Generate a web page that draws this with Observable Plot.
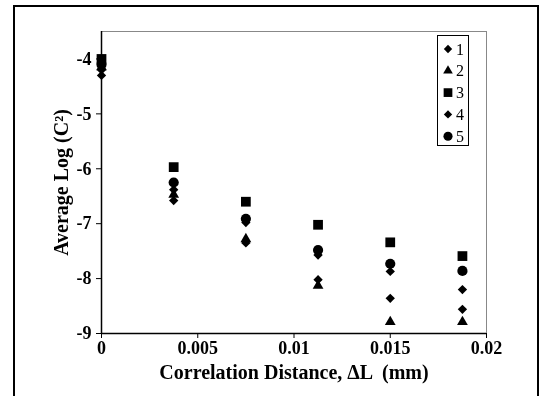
<!DOCTYPE html>
<html><head><meta charset="utf-8">
<script src="https://cdn.jsdelivr.net/npm/d3@7"></script>
<script src="https://cdn.jsdelivr.net/npm/@observablehq/plot@0.6"></script>
<style>
body{margin:0;background:#fff;}
#wrap{position:relative;width:543px;height:396px;overflow:hidden;background:#fff;}
#border{position:absolute;left:13px;top:5px;width:526px;height:420px;border:2px solid #000;border-bottom:none;box-sizing:border-box;}
#chart{position:absolute;left:0;top:0;will-change:transform;}
#chart svg text{font-weight:bold;}
#legend{position:absolute;left:437px;top:35px;width:32px;height:111px;border:1px solid #000;background:#fff;box-sizing:border-box;will-change:transform;}
#legend svg{display:block;}
</style></head>
<body>
<div id="wrap"><div id="border"></div><div id="chart"></div><div id="legend"></div></div>
<script>
const distances = [0, 0.00375, 0.0075, 0.01125, 0.015, 0.01875];
const series1 = [-4.30, -6.58, -7.35, -8.02, -8.36, -8.56];
const series2 = [-4.15, -6.47, -7.28, -8.13, -8.79, -8.79];
const series3 = [-4.00, -5.97, -6.60, -7.02, -7.34, -7.59];
const series4 = [-4.20, -6.38, -6.98, -7.57, -7.87, -8.20];
const series5 = [-4.10, -6.25, -6.91, -7.48, -7.73, -7.86];
const seriesNames = ["1", "2", "3", "4", "5"];
const xTicks = [0, 0.005, 0.01, 0.015, 0.02];
const yTicks = [-9, -8, -7, -6, -5, -4];

const seriesValues = [series1, series2, series3, series4, series5];
const symbols = ["diamond2", "triangle", "square", "diamond2", "circle"];
const radii = [4.2, 4.0, 5.5, 4.2, 5.1];

const marks = [
  Plot.frame({stroke: "#888", strokeWidth: 1}),
  Plot.ruleX([0], {stroke: "#000", strokeWidth: 1.5}),
  Plot.ruleY([-9], {stroke: "#000", strokeWidth: 1.5}),
  Plot.axisX({ticks: xTicks, tickSize: 5, tickPadding: 3, fontSize: 18, label: null, tickFormat: d => String(d), stroke: "#000"}),
  Plot.axisY({ticks: yTicks, tickSize: 5, tickPadding: 5, fontSize: 18, label: null, tickFormat: d => String(d), stroke: "#000"}),
  Plot.text(["Correlation Distance, \u0394L  (mm)"], {frameAnchor: "bottom", textAnchor: "middle", lineAnchor: "middle", dy: 39, fontSize: 20, fill: "#000"}),
  Plot.text(["Average Log (C\u00b2)"], {frameAnchor: "left", textAnchor: "middle", lineAnchor: "middle", dx: -40, rotate: -90, fontSize: 20, fill: "#000"})
];
seriesNames.forEach((name, i) => {
  const data = distances.map((x, j) => ({x, y: seriesValues[i][j], s: name}));
  marks.push(Plot.dot(data, {x: "x", y: "y", symbol: () => symbols[i], r: radii[i], fill: "#000", stroke: "none"}));
});

const chart = Plot.plot({
  width: 543, height: 396,
  marginLeft: 101, marginRight: 57, marginTop: 31, marginBottom: 63,
  style: {fontFamily: "'Liberation Serif', serif", background: "transparent", color: "#000"},
  x: {domain: [0, 0.02]},
  y: {domain: [-9, -3.5]},
  symbol: {type: "identity"},
  marks
});
document.getElementById("chart").appendChild(chart);

const d3sym = {diamond2: d3.symbolDiamond2, triangle: d3.symbolTriangle, square: d3.symbolSquare, circle: d3.symbolCircle};
const lsvg = d3.select("#legend").append("svg").attr("width", 30).attr("height", 109);
seriesNames.forEach((name, i) => {
  const cy = 13 + i * 21.8;
  lsvg.append("path").attr("transform", `translate(10,${cy})`)
    .attr("d", d3.symbol(d3sym[symbols[i]], Math.PI * radii[i] * radii[i] * 0.8)()).attr("fill", "#000");
  lsvg.append("text").attr("x", 18).attr("y", cy).attr("dy", "0.35em")
    .attr("font-family", "'Liberation Serif', serif").attr("font-size", 16).attr("fill", "#000").text(name);
});
</script>
</body></html>
